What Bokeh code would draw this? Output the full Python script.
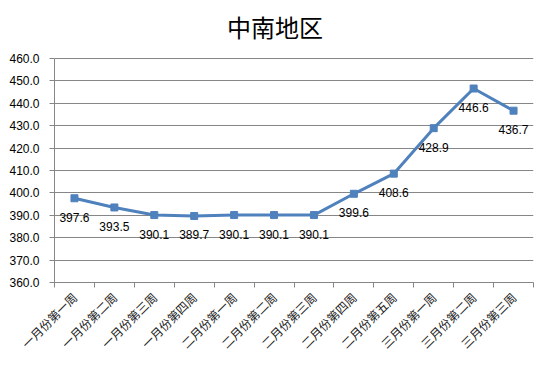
from bokeh.plotting import figure
from bokeh.models import ColumnDataSource, FixedTicker, LabelSet, Label, Range1d
from bokeh.core.properties import value
from bokeh.embed import file_html
from bokeh.resources import INLINE
import math

categories = ["一月份第一周", "一月份第二周", "一月份第三周", "一月份第四周",
              "二月份第一周", "二月份第二周", "二月份第三周", "二月份第四周", "二月份第五周",
              "三月份第一周", "三月份第二周", "三月份第三周"]
values = [397.6, 393.5, 390.1, 389.7, 390.1, 390.1, 390.1, 399.6, 408.6, 428.9, 446.6, 436.7]
y_ticks = [360, 370, 380, 390, 400, 410, 420, 430, 440, 450, 460]
y_min, y_max = 360, 460

xs = [i + 0.5 for i in range(len(categories))]
labels = ["%.1f" % v for v in values]
src = ColumnDataSource(dict(x=xs, y=values, label=labels))

# layout (pixels)
W, H = 540, 360
BL, BR, BT, BB = 54, 7, 0, 78
plot_top, plot_bottom = 58, 282          # pixel rows of 460 and 360
frame_h = H - BT - BB
y_end = y_min + (y_max - y_min) * (plot_bottom - BT) / (plot_bottom - plot_top)

p = figure(width=W, height=H, output_backend="svg", toolbar_location=None,
           x_range=Range1d(0, len(categories)), y_range=Range1d(y_min, y_end),
           min_border_left=BL, min_border_right=BR, min_border_top=BT, min_border_bottom=BB)
p.outline_line_color = None
p.background_fill_color = "white"
p.border_fill_color = "white"

title = Label(x=274.5 - BL, y=plot_bottom - 26, x_units="screen", y_units="screen",
              text="中南地区", text_align="center", text_baseline="middle",
              text_font="Noto Sans CJK SC", text_font_size="24px", text_color="black")
p.add_layout(title)

# y axis
p.yaxis.ticker = FixedTicker(ticks=y_ticks)
p.yaxis.bounds = (y_min, y_max)
p.yaxis.major_label_overrides = {v: "%.1f" % v for v in y_ticks}
p.yaxis.axis_line_color = "#868686"
p.yaxis.major_tick_line_color = "#868686"
p.yaxis.major_tick_out = 5
p.yaxis.major_tick_in = 0
p.yaxis.minor_tick_line_color = None
p.yaxis.major_label_standoff = 10
p.yaxis.major_label_text_font = "Liberation Sans"
p.yaxis.major_label_text_font_size = "12px"
p.yaxis.major_label_text_color = "black"

# x axis
p.xaxis.ticker = FixedTicker(ticks=xs, minor_ticks=list(range(len(categories) + 1)))
p.xaxis.major_label_overrides = {x: c for x, c in zip(xs, categories)}
p.xaxis.major_label_orientation = math.pi / 4
p.xaxis.axis_line_color = "#868686"
p.xaxis.major_tick_line_color = None
p.xaxis.minor_tick_line_color = "#868686"
p.xaxis.minor_tick_out = 5
p.xaxis.minor_tick_in = 0
p.xaxis.major_label_standoff = 6
p.xaxis.major_label_text_font = "Noto Sans CJK SC"
p.xaxis.major_label_text_font_size = "12px"
p.xaxis.major_label_text_color = "#222222"

p.xgrid.grid_line_color = None
p.ygrid.grid_line_color = "#868686"
p.ygrid.grid_line_width = 1

p.line("x", "y", source=src, line_color="#4F81BD", line_width=3)
p.scatter("x", "y", source=src, marker="square", size=7, fill_color="#4F81BD",
          line_color="#4F81BD")

ls = LabelSet(x="x", y="y", text="label", source=src, y_offset=-19,
              text_align="center", text_baseline="middle",
              text_font=value("Liberation Sans"), text_font_size=value("12px"),
              text_color="black")
p.add_layout(ls)

open("out.html", "w").write(file_html(p, INLINE))
